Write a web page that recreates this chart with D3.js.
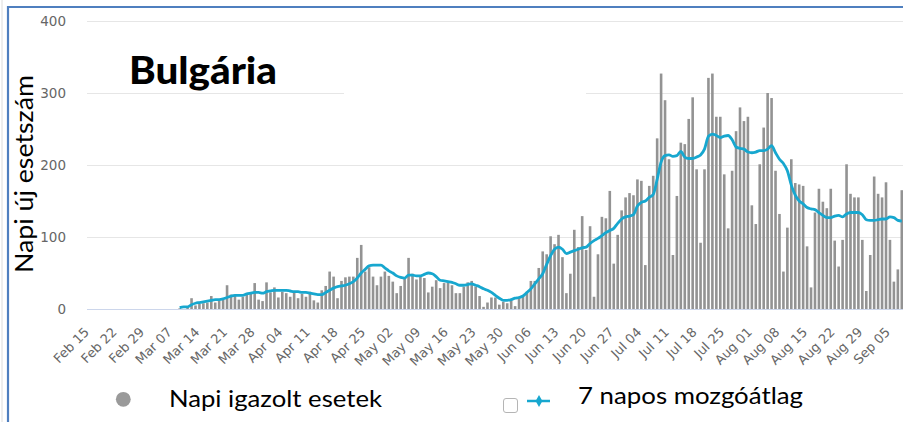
<!DOCTYPE html>
<html>
<head>
<meta charset="utf-8">
<script src="https://cdn.jsdelivr.net/npm/d3@7"></script>
<style>
  body { margin: 0; background: #fff; }
  svg { display: block; }
</style>
</head>
<body>
<svg id="chart" width="903" height="422"></svg>
<script>
// === Data ===
const firstDay = '2020-03-08';

// napi igazolt esetek, Mar 08 -> Sep 07
const dailyCases = [
  1, 0, 3, 15, 5, 7, 8, 9, 18, 9,
  12, 13, 33, 20, 19, 13, 17, 21, 22, 36,
  13, 11, 37, 23, 30, 16, 24, 22, 17, 24,
  15, 21, 17, 24, 12, 9, 26, 32, 52, 45,
  15, 39, 44, 45, 45, 71, 89, 52, 58, 45,
  33, 45, 52, 46, 38, 22, 32, 43, 71, 49,
  41, 45, 43, 23, 31, 40, 29, 36, 37, 33,
  22, 22, 31, 37, 39, 31, 18, 3, 9, 16,
  16, 6, 10, 8, 12, 4, 17, 18, 24, 39,
  39, 57, 80, 76, 101, 90, 103, 72, 22, 49,
  110, 86, 129, 82, 115, 17, 76, 128, 126, 164,
  63, 103, 137, 155, 161, 158, 180, 178, 61, 171,
  185, 237, 327, 290, 208, 75, 157, 231, 229, 264,
  294, 194, 92, 194, 321, 327, 267, 267, 187, 112,
  192, 247, 280, 261, 267, 144, 118, 201, 252, 300,
  293, 192, 132, 52, 113, 208, 175, 173, 171, 87,
  30, 134, 167, 149, 140, 167, 95, 59, 96, 201,
  160, 155, 155, 96, 25, 75, 184, 160, 155, 176,
  96, 38, 55, 165
];

// 7 napos mozgóátlag, same days
const movingAvg = [
  2, 3, 3, 6, 8, 9, 10, 11, 12, 13,
  13, 14, 16, 18, 19, 19, 19, 21, 22, 23,
  23, 22, 24, 25, 26, 26, 26, 26, 25, 24,
  24, 23, 23, 22, 21, 20, 20, 23, 26, 29,
  31, 32, 33, 35, 38, 43, 50, 55, 60, 61,
  61, 61, 57, 53, 50, 46, 44, 43, 47, 47,
  46, 46, 48, 50, 49, 45, 40, 39, 38, 37,
  35, 33, 33, 34, 35, 33, 31, 28, 26, 23,
  19, 15, 12, 12, 13, 15, 16, 18, 23, 28,
  35, 42, 49, 62, 74, 83, 86, 83, 77, 79,
  81, 83, 85, 86, 91, 95, 98, 102, 106, 109,
  112, 119, 125, 128, 129, 131, 143, 148, 150, 155,
  159, 180, 204, 213, 214, 212, 213, 219, 211, 209,
  209, 211, 214, 222, 240, 243, 241, 238, 240, 241,
  235, 225, 223, 222, 218, 217, 218, 220, 220, 222,
  227, 217, 208, 202, 192, 172, 158, 150, 146, 141,
  139, 138, 134, 130, 127, 127, 129, 130, 128, 132,
  134, 134, 134, 131, 124, 123, 123, 124, 125, 125,
  128, 127, 123, 122
];

const tickLabels = [
  'Feb 15', 'Feb 22', 'Feb 29', 'Mar 07', 'Mar 14', 'Mar 21', 'Mar 28',
  'Apr 04', 'Apr 11', 'Apr 18', 'Apr 25', 'May 02', 'May 09', 'May 16',
  'May 23', 'May 30', 'Jun 06', 'Jun 13', 'Jun 20', 'Jun 27', 'Jul 04',
  'Jul 11', 'Jul 18', 'Jul 25', 'Aug 01', 'Aug 08', 'Aug 15', 'Aug 22',
  'Aug 29', 'Sep 05'
];

const yTicks = [0, 100, 200, 300, 400];

// === Scales ===
const parseDay = d3.utcParse('%Y-%m-%d');
const parseTick = d3.utcParse('%Y %b %d');
const day0 = parseDay(firstDay);
const dates = dailyCases.map((_, i) => d3.utcDay.offset(day0, i));
const tickDates = tickLabels.map(t => parseTick('2020 ' + t));

const x = d3.scaleUtc()
  .domain([tickDates[0], tickDates[tickDates.length - 1]])
  .range([92.9, 893.9]);

const y = d3.scaleLinear()
  .domain([0, 400])
  .range([309, 21]);

const svg = d3.select('#chart');

// frame lines of the original slide
svg.append('line').attr('x1', 2).attr('x2', 2).attr('y1', 0).attr('y2', 422)
  .attr('stroke', '#dcdcdc').attr('stroke-width', 1);
svg.append('line').attr('x1', 8).attr('x2', 8).attr('y1', 6).attr('y2', 422)
  .attr('stroke', '#4f7fbf').attr('stroke-width', 2.2);
svg.append('line').attr('x1', 7).attr('x2', 903).attr('y1', 7).attr('y2', 7)
  .attr('stroke', '#4f7fbf').attr('stroke-width', 2.2);

// === Grid ===
svg.append('g')
  .selectAll('line')
  .data(yTicks.filter(d => d > 0))
  .join('line')
  .attr('x1', 87).attr('x2', 903)
  .attr('y1', d => Math.round(y(d)) + 0.5)
  .attr('y2', d => Math.round(y(d)) + 0.5)
  .attr('stroke', '#e6e6e6');

// white patch left over behind the title
svg.append('rect')
  .attr('x', 344).attr('y', 40).attr('width', 242).attr('height', 100)
  .attr('fill', '#fff');

// y tick labels
svg.append('g')
  .selectAll('text')
  .data(yTicks)
  .join('text')
  .attr('x', 66)
  .attr('y', d => y(d) + 4.5)
  .attr('text-anchor', 'end')
  .attr('font-family', 'DejaVu Sans, sans-serif')
  .attr('font-size', '13.5px')
  .attr('fill', '#666')
  .text(d => d);

// x baseline
svg.append('line')
  .attr('x1', 87).attr('x2', 903)
  .attr('y1', y(0) + 0.5).attr('y2', y(0) + 0.5)
  .attr('stroke', '#ccd6eb');

// x tick labels, rotated
svg.append('g')
  .selectAll('text')
  .data(tickLabels)
  .join('text')
  .attr('transform', (d, i) => `translate(${x(tickDates[i]) - 3},333) rotate(-45)`)
  .attr('text-anchor', 'end')
  .attr('font-family', 'DejaVu Sans, sans-serif')
  .attr('font-size', '13px')
  .attr('fill', '#666')
  .text(d => d);

// === Bars ===
const barW = 2.6;
svg.append('g')
  .selectAll('rect')
  .data(dailyCases)
  .join('rect')
  .attr('x', (d, i) => x(dates[i]) - barW / 2)
  .attr('y', d => y(d))
  .attr('width', barW)
  .attr('height', d => y(0) - y(d))
  .attr('fill', '#939393');

// === 7-day line ===
const line = d3.line()
  .x((d, i) => x(dates[i]))
  .y(d => y(d))
  .curve(d3.curveMonotoneX);

svg.append('path')
  .datum(movingAvg)
  .attr('d', line)
  .attr('fill', 'none')
  .attr('stroke', '#17a7cf')
  .attr('stroke-width', 2.8)
  .attr('stroke-linejoin', 'round');

// === Titles ===
svg.append('text')
  .attr('x', 129).attr('y', 84)
  .attr('font-family', 'Lato, sans-serif')
  .attr('font-weight', 900)
  .attr('font-size', '37px')
  .attr('textLength', 148)
  .attr('lengthAdjust', 'spacingAndGlyphs')
  .attr('fill', '#000')
  .text('Bulgária');

svg.append('text')
  .attr('transform', 'translate(33,174) rotate(-90)')
  .attr('text-anchor', 'middle')
  .attr('font-family', 'Lato, sans-serif')
  .attr('font-size', '25px')
  .attr('textLength', 198)
  .attr('lengthAdjust', 'spacingAndGlyphs')
  .attr('fill', '#000')
  .text('Napi új esetszám');

// === Legend ===
const legend = svg.append('g');

legend.append('circle')
  .attr('cx', 123.3).attr('cy', 399.3).attr('r', 7.4)
  .attr('fill', '#9a9a9a');

legend.append('text')
  .attr('x', 169).attr('y', 407)
  .attr('font-family', 'Lato, sans-serif')
  .attr('font-size', '24px')
  .attr('textLength', 213)
  .attr('lengthAdjust', 'spacingAndGlyphs')
  .attr('fill', '#000')
  .text('Napi igazolt esetek');

legend.append('rect')
  .attr('x', 503.5).attr('y', 398.5).attr('width', 14).attr('height', 14)
  .attr('rx', 2.5)
  .attr('fill', '#fff').attr('stroke', '#b5b5b5');

legend.append('line')
  .attr('x1', 527).attr('x2', 550).attr('y1', 401).attr('y2', 401)
  .attr('stroke', '#17a7cf').attr('stroke-width', 2.5);

legend.append('path')
  .attr('transform', 'translate(539,401)')
  .attr('d', d3.symbol(d3.symbolDiamond, 40)())
  .attr('fill', '#17a7cf');

legend.append('text')
  .attr('x', 578).attr('y', 404)
  .attr('font-family', 'Lato, sans-serif')
  .attr('font-size', '24px')
  .attr('textLength', 225)
  .attr('lengthAdjust', 'spacingAndGlyphs')
  .attr('fill', '#000')
  .text('7 napos mozgóátlag');
</script>
</body>
</html>
